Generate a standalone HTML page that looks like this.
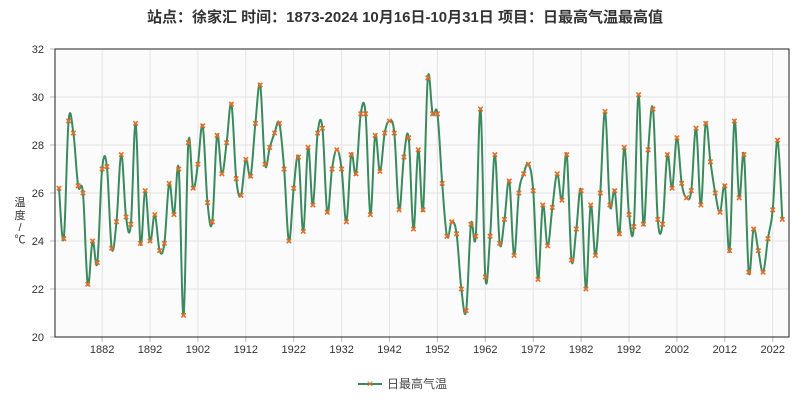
<!DOCTYPE html>
<html><head><meta charset="utf-8">
<style>
html,body{margin:0;padding:0;background:#fff;}
svg{display:block;font-family:"Liberation Sans","Noto Sans CJK SC",sans-serif;}
</style></head>
<body>
<svg id="chart" width="809" height="400" viewBox="0 0 809 400" xmlns="http://www.w3.org/2000/svg">
<text x="405" y="22" text-anchor="middle" font-size="15" font-weight="bold" fill="#333">站点：徐家汇 时间：1873-2024  10月16日-10月31日 项目：日最高气温最高值</text>
<rect x="55" y="49" width="734" height="288" fill="#fbfbfb"/>
<g id="grid"></g>
<g id="yaxis"></g>
<g id="xaxis"></g>
<g font-size="11" fill="#333" text-anchor="middle">
<text x="20" y="206">温</text><text x="20" y="219">度</text><text x="20" y="231">/</text><text x="20" y="243">℃</text>
</g>
<path id="line" fill="none" stroke="#3b8a5e" stroke-width="2"/>
<g id="markers"></g>
<rect x="55" y="49" width="734" height="288" fill="none" stroke="#222" stroke-width="1"/>
<g>
<line x1="358" y1="384" x2="382" y2="384" stroke="#3b8a5e" stroke-width="2"/>
<text x="370" y="387" text-anchor="middle" font-size="9" fill="#e0702a">✕</text>
<text x="387" y="388" font-size="12" fill="#444">日最高气温</text>
</g>
</svg>
<script>
const years = [];
for (let y = 1873; y <= 2024; y++) years.push(y);
const temps = [
26.2,24.1,29.0,28.5,26.3,26.0,22.2,24.0,23.1,27.0,27.1,23.7,24.8,27.6,25.0,24.7,28.9,23.9,26.1,24.0,25.1,23.6,23.9,26.4,25.1,27.0,
20.9,28.1,26.2,27.2,28.8,25.6,24.8,28.4,26.8,28.1,29.7,26.6,25.9,27.4,26.7,28.9,30.5,27.2,27.9,28.5,28.9,27.0,24.0,26.2,27.5,
24.4,27.9,25.5,28.5,28.7,25.2,27.0,27.8,27.0,24.8,27.6,26.8,29.3,29.3,25.1,28.4,26.9,28.5,29.0,28.5,25.3,27.5,28.3,24.5,27.8,
25.3,30.8,29.3,29.3,26.4,24.2,24.8,24.3,22.0,21.1,24.7,24.2,29.5,22.5,24.2,27.6,23.9,24.9,26.5,23.4,26.0,26.8,27.2,26.1,22.4,
25.5,23.8,25.4,26.8,25.7,27.6,23.2,24.5,26.1,22.0,25.5,23.4,26.0,29.4,25.5,26.1,24.3,27.9,25.1,24.6,30.1,24.7,27.8,29.5,24.9,
24.7,27.6,26.2,28.3,26.4,25.8,26.1,28.7,25.5,28.9,27.3,26.0,25.2,26.3,23.6,29.0,25.8,27.6,22.7,24.5,23.6,22.7,24.1,25.3,28.2,24.9
];
const yTicks = [20,22,24,26,28,30,32];
const xTicks = [1882,1892,1902,1912,1922,1932,1942,1952,1962,1972,1982,1992,2002,2012,2022];

const NS = "http://www.w3.org/2000/svg";
const X0 = 59, X1 = 782.3, Y20 = 337, Y32 = 49;
function xs(yr){ return X0 + (yr - 1873) * (X1 - X0) / (2024 - 1873); }
function ys(v){ return Y20 - (v - 20) * (Y20 - Y32) / 12; }
function mk(tag, attrs, parent){ const e = document.createElementNS(NS, tag); for (const k in attrs) e.setAttribute(k, attrs[k]); parent.appendChild(e); return e; }

const grid = document.getElementById('grid');
const ya = document.getElementById('yaxis');
const xa = document.getElementById('xaxis');
yTicks.forEach(t => {
  const y = ys(t);
  const g = mk('line', {x1:55, x2:789, y1:y, y2:y, stroke:'#e3e3e3', 'stroke-width':1}, grid);
  
  
  mk('line', {x1:50, x2:55, y1:y, y2:y, stroke:'#bbb'}, ya);
  const tx = mk('text', {x:44, y:y+4, 'text-anchor':'end', 'font-size':11, fill:'#333'}, ya);
  
  
  tx.textContent = t;
});
xTicks.forEach(t => {
  const x = xs(t);
  const g = mk('line', {x1:x, x2:x, y1:49, y2:337, stroke:'#e3e3e3', 'stroke-width':1}, grid);
  
  
  mk('line', {x1:x, x2:x, y1:337, y2:342, stroke:'#bbb'}, xa);
  const tx = mk('text', {x:x, y:353, 'text-anchor':'middle', 'font-size':11, fill:'#333'}, xa);
  
  
  tx.textContent = t;
});

const pts = years.map((yr, i) => [xs(yr), ys(temps[i])]);
let d = 'M' + pts[0][0] + ',' + pts[0][1];
for (let i = 0; i < pts.length - 1; i++) {
  const p0 = pts[Math.max(0, i-1)], p1 = pts[i], p2 = pts[i+1], p3 = pts[Math.min(pts.length-1, i+2)];
  const t = 0.18;
  const c1x = p1[0] + (p2[0]-p0[0])*t, c1y = p1[1] + (p2[1]-p0[1])*t;
  const c2x = p2[0] - (p3[0]-p1[0])*t, c2y = p2[1] - (p3[1]-p1[1])*t;
  d += ' C' + c1x.toFixed(2) + ',' + c1y.toFixed(2) + ' ' + c2x.toFixed(2) + ',' + c2y.toFixed(2) + ' ' + p2[0].toFixed(2) + ',' + p2[1].toFixed(2);
}
document.getElementById('line').setAttribute('d', d);

const mg = document.getElementById('markers');
pts.forEach(p => {
  const s = 2.2;
  const m = mk('path', {d:`M${p[0]-s},${p[1]-s}L${p[0]+s},${p[1]+s}M${p[0]-s},${p[1]+s}L${p[0]+s},${p[1]-s}`, stroke:'#e0702a', 'stroke-width':1.6, fill:'none'}, mg);
  
  
});
</script>
</body></html>
